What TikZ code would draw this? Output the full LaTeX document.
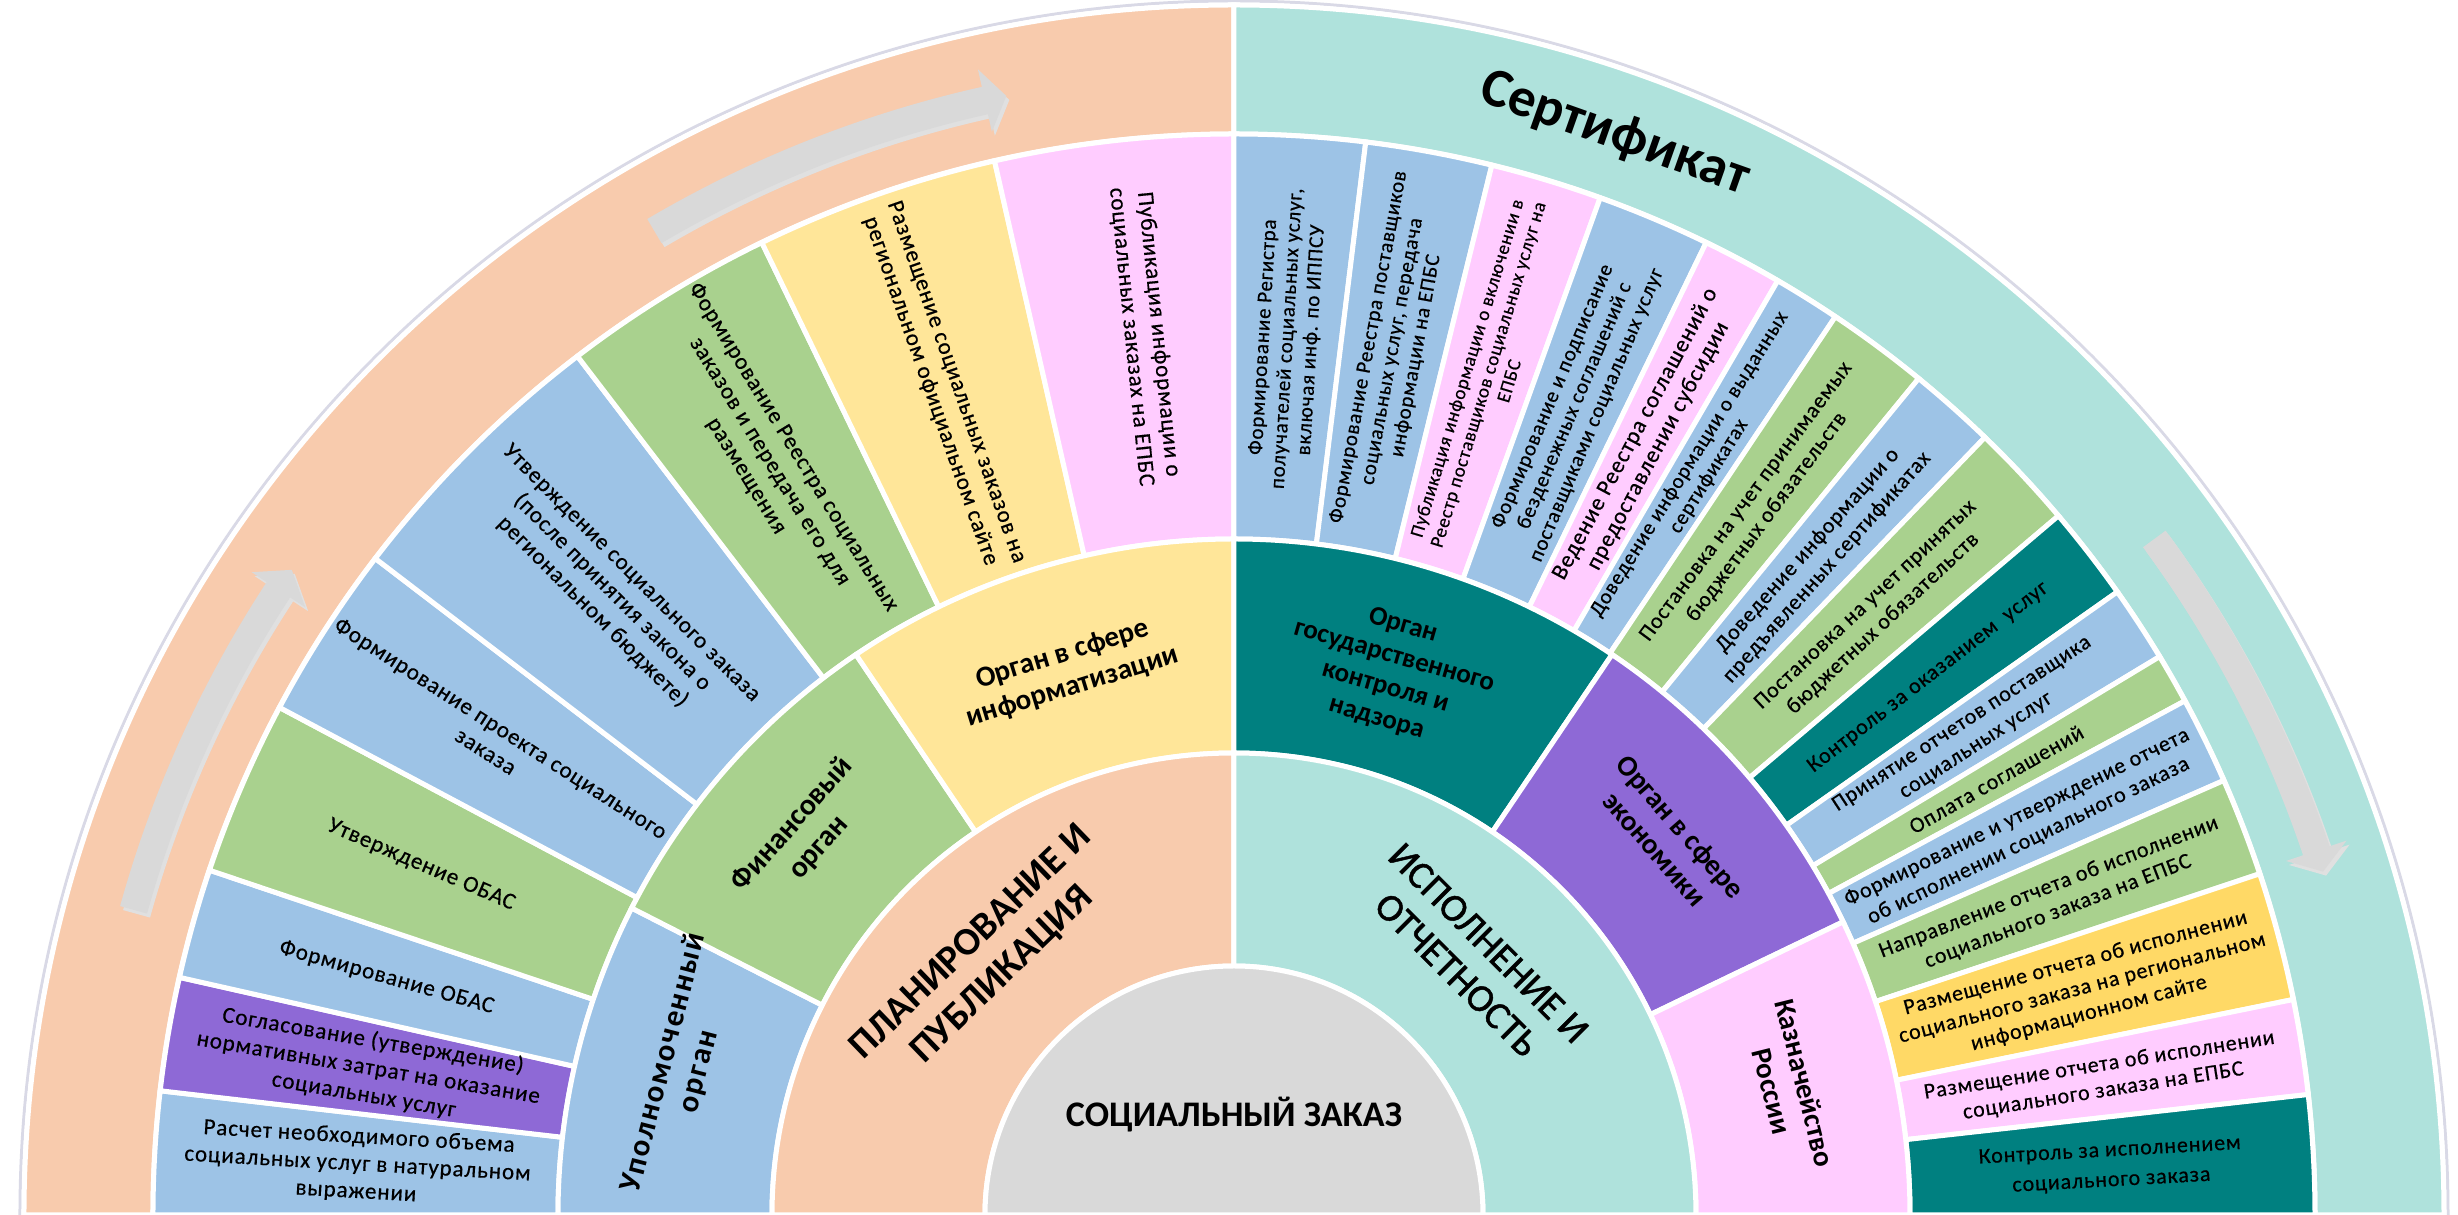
\documentclass[tikz,border=0pt]{standalone}
\usepackage{fontspec}
\setmainfont{Carlito}
\newfontfamily\spacedfont[LetterSpace=4,FakeBold=0.5]{Carlito}
\newfontfamily\heavyfont[FakeBold=1.2]{Carlito}
\newfontfamily\widebold[LetterSpace=6]{Carlito}
\definecolor{orangeband}{HTML}{F8CBAD}
\definecolor{tealband}{HTML}{AFE2DC}
\definecolor{blueseg}{HTML}{9DC3E6}
\definecolor{greenseg}{HTML}{A9D18E}
\definecolor{yellowseg}{HTML}{FFE699}
\definecolor{goldseg}{HTML}{FFD966}
\definecolor{pinkseg}{HTML}{FFCCFF}
\definecolor{purpleseg}{HTML}{8E69D6}
\definecolor{tealdark}{HTML}{008080}
\definecolor{grayc}{HTML}{D9D9D9}
\definecolor{arrowgray}{HTML}{D9D9D9}
\newcommand{\annsec}[5]{\filldraw[fill=#1, draw=white, line width=5pt] (#4:#2pt) arc[start angle=#4, end angle=#5, radius=#2pt] -- (#5:#3pt) arc[start angle=#5, end angle=#4, radius=#3pt] -- cycle;}
\newcommand{\bandarrow}[4]{\fill[#4] (#1:1156pt) arc[start angle=#1, end angle=#2, radius=1156pt] -- (#2:1174pt) -- (#3:1142pt) -- (#2:1110pt) -- (#2:1128pt) arc[start angle=#2, end angle=#1, radius=1128pt] -- cycle;}
\tikzset{
  lt/.style={align=center, inner sep=0pt, font=\spacedfont\fontsize{23}{27.5}\selectfont},
  rt/.style={align=center, inner sep=0pt, font=\spacedfont\fontsize{22}{26}\selectfont},
  rts/.style={align=center, inner sep=0pt, font=\spacedfont\fontsize{21}{24}\selectfont},
  rtx/.style={align=center, inner sep=0pt, font=\spacedfont\fontsize{19}{22}\selectfont},
  org/.style={align=center, inner sep=0pt, font=\bfseries\fontsize{29}{34}\selectfont},
  big/.style={align=center, inner sep=0pt, font=\heavyfont\fontsize{39}{45}\selectfont},
}
\begin{document}
\begin{tikzpicture}[x=1pt,y=1pt]
\useasboundingbox (-1234pt,0pt) rectangle (1224pt,1215pt);
\clip (-1234pt,0pt) rectangle (1224pt,1215pt);
\fill[white] (-1234pt,0pt) rectangle (1224pt,1215pt);
% faint outer glow
\draw[color=blue!20!gray!25, line width=3pt] (0:1214pt) arc[start angle=0, end angle=180, radius=1214pt];
% outer band
\annsec{orangeband}{1081}{1210}{90}{180}
\annsec{tealband}{1081}{1210}{0}{90}
% task ring left
\annsec{blueseg}{676}{1081}{173.4}{180}
\annsec{purpleseg}{676}{1081}{167.3}{173.4}
\annsec{blueseg}{676}{1081}{161.4}{167.3}
\annsec{greenseg}{676}{1081}{152}{161.4}
\annsec{blueseg}{676}{1081}{142.6}{152}
\annsec{blueseg}{676}{1081}{127.4}{142.6}
\annsec{greenseg}{676}{1081}{115.9}{127.4}
\annsec{yellowseg}{676}{1081}{102.8}{115.9}
\annsec{pinkseg}{676}{1081}{90}{102.8}
% task ring right
\annsec{blueseg}{676}{1081}{83}{90}
\annsec{blueseg}{676}{1081}{76.2}{83}
\annsec{pinkseg}{676}{1081}{70.2}{76.2}
\annsec{blueseg}{676}{1081}{64.1}{70.2}
\annsec{pinkseg}{676}{1081}{59.8}{64.1}
\annsec{blueseg}{676}{1081}{56.2}{59.8}
\annsec{greenseg}{676}{1081}{50.7}{56.2}
\annsec{blueseg}{676}{1081}{46}{50.7}
\annsec{greenseg}{676}{1081}{40.3}{46}
\annsec{tealdark}{676}{1081}{35.2}{40.3}
\annsec{blueseg}{676}{1081}{31.1}{35.2}
\annsec{greenseg}{676}{1081}{28.4}{31.1}
\annsec{blueseg}{676}{1081}{23.7}{28.4}
\annsec{greenseg}{676}{1081}{18.4}{23.7}
\annsec{goldseg}{676}{1081}{11.5}{18.4}
\annsec{pinkseg}{676}{1081}{6.4}{11.5}
\annsec{tealdark}{676}{1081}{0}{6.4}
% organ ring
\annsec{blueseg}{462}{676}{153}{180}
\annsec{greenseg}{462}{676}{124}{153}
\annsec{yellowseg}{462}{676}{90}{124}
\annsec{tealdark}{462}{676}{56}{90}
\annsec{purpleseg}{462}{676}{25.7}{56}
\annsec{pinkseg}{462}{676}{0}{25.7}
% inner ring
\annsec{orangeband}{249}{462}{90}{180}
\annsec{tealband}{249}{462}{0}{90}
% centre
\filldraw[fill=grayc, draw=white, line width=5pt] (0:249pt) arc[start angle=0, end angle=180, radius=249pt] -- cycle;
% arrows
\begin{scope}[shift={(3pt,-4pt)}]
\bandarrow{164.5}{146.8}{145.6}{black!12}
\bandarrow{120.5}{102.6}{101.5}{black!12}
\bandarrow{36.3}{18.6}{17.5}{black!12}
\end{scope}
\bandarrow{164.5}{146.8}{145.6}{arrowgray}
\bandarrow{120.5}{102.6}{101.5}{arrowgray}
\bandarrow{36.3}{18.6}{17.5}{arrowgray}
% title in band
\node[inner sep=0pt, font=\bfseries\fontsize{55}{60}\selectfont, rotate=-19.5] (cert) at (70.6:1146pt) {Сертификат};
% left tasks
\node[lt, rotate=-3.3] (l1) at (176.7:878pt) {Расчет необходимого объема\\социальных услуг в натуральном\\выражении};
\node[lt, rotate=-9.65] (l2) at (170.35:878pt) {Согласование (утверждение)\\нормативных затрат на оказание\\социальных услуг};
\node[lt, rotate=-15.65] (l3) at (164.35:880pt) {Формирование ОБАС};
\node[lt, rotate=-23.3] (l4) at (156.7:885pt) {Утверждение ОБАС};
\node[lt, rotate=-32.7] (l5) at (147.3:880pt) {Формирование проекта социального\\заказа};
\node[lt, rotate=-45] (l6) at (135:880pt) {Утверждение социального заказа\\(после принятия закона о\\региональном бюджете)};
\node[lt, rotate=-58.35] (l7) at (121.65:885pt) {Формирование Реестра социальных\\заказов и передача его для\\размещения};
\node[lt, rotate=-70.65] (l8) at (109.35:878pt) {Размещение социальных заказов на\\региональном официальном сайте};
\node[lt, rotate=-84.2] (l9) at (95.8:884pt) {Публикация информации о\\социальных заказах на ЕПБС};
% right tasks
\node[rts, rotate=86.5] (r1) at (86.5:878pt) {Формирование Регистра\\получателей социальных услуг,\\включая инф. по ИППСУ};
\node[rts, rotate=79.6] (r2) at (79.6:878pt) {Формирование Реестра поставщиков\\социальных услуг, передача\\информации на ЕПБС};
\node[rtx, rotate=73.2] (r3) at (73.2:878pt) {Публикация информации о включении в\\Реестр поставщиков социальных услуг на\\ЕПБС};
\node[rts, rotate=67.15] (r4) at (67.15:878pt) {Формирование и подписание\\безденежных соглашений с\\поставщиками социальных услуг};
\node[rt, rotate=61.95, font=\spacedfont\fontsize{23}{26}\selectfont] (r5) at (61.95:878pt) {Ведение Реестра соглашений о\\предоставлении субсидии};
\node[rts, rotate=58, font=\spacedfont\fontsize{21}{23}\selectfont] (r6) at (58:878pt) {Доведение информации о выданных\\сертификатах};
\node[rt, rotate=53.45] (r7) at (53.45:878pt) {Постановка на учет принимаемых\\бюджетных обязательств};
\node[rt, rotate=48.35] (r8) at (48.35:878pt) {Доведение информации о\\предъявленных сертификатах};
\node[rt, rotate=43.15] (r9) at (43.15:878pt) {Постановка на учет принятых\\бюджетных обязательств};
\node[rt, rotate=37.75] (r10) at (37.75:878pt) {Контроль за оказанием\ \ услуг};
\node[rt, rotate=33.15] (r11) at (33.15:878pt) {Принятие отчетов поставщика\\социальных услуг};
\node[rt, rotate=29.75] (r12) at (29.75:878pt) {Оплата соглашений};
\node[rt, rotate=26.05] (r13) at (26.05:878pt) {Формирование и утверждение отчета\\об исполнении социального заказа};
\node[rt, rotate=21.05] (r14) at (21.05:878pt) {Направление отчета об исполнении\\социального заказа на ЕПБС};
\node[rt, rotate=14.95] (r15) at (14.95:878pt) {Размещение отчета об исполнении\\социального заказа на региональном\\информационном сайте};
\node[rt, rotate=8.95] (r16) at (8.95:878pt) {Размещение отчета об исполнении\\социального заказа на ЕПБС};
\node[rt, rotate=3.2, font=\spacedfont\fontsize{22}{30}\selectfont] (r17) at (3.2:878pt) {Контроль за исполнением\\социального заказа};
% organs
\node[org, rotate=75.5, font=\widebold\bfseries\fontsize{31}{36}\selectfont] (o1) at (165:572pt) {Уполномоченный\\орган};
\node[org, rotate=48.5, font=\bfseries\fontsize{30}{35}\selectfont] (o2) at (138.5:572pt) {Финансовый\\орган};
\node[org, rotate=17] (o3) at (107:569pt) {Орган в сфере\\информатизации};
\node[org, rotate=-16, font=\bfseries\fontsize{27}{32}\selectfont] (o4) at (74:565pt) {Орган\\государственного\\контроля и\\надзора};
\node[org, rotate=-49] (o5) at (41:575pt) {Орган в сфере\\экономики};
\node[org, rotate=-76] (o6) at (13:569pt) {Казначейство\\России};
% inner ring
\node[big, font=\bfseries\fontsize{39}{45}\selectfont, rotate=44] (i1) at (134:356pt) {ПЛАНИРОВАНИЕ И\\ПУБЛИКАЦИЯ};
\node[big, rotate=-45] (i2) at (47:350pt) {ИСПОЛНЕНИЕ И\\ОТЧЕТНОСТЬ};
% centre label
\node[inner sep=0pt, font=\bfseries\fontsize{36}{40}\selectfont] (c) at (0pt,100pt) {СОЦИАЛЬНЫЙ ЗАКАЗ};
\end{tikzpicture}
\end{document}
